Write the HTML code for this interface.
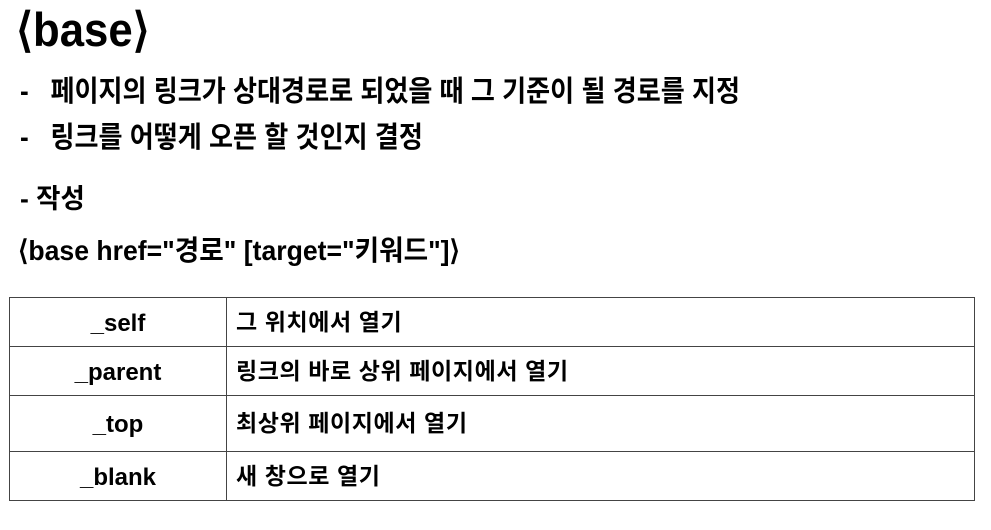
<!DOCTYPE html>
<html><head><meta charset="utf-8"><style>
body{margin:0;width:991px;height:530px;background:#fff;overflow:hidden;position:relative;font-family:"Liberation Sans","Noto Sans CJK KR","NanumGothic",sans-serif;font-weight:bold;color:#000}
.t{position:absolute;white-space:nowrap;transform-origin:left top;line-height:1}
table{position:absolute;left:9px;top:297px;width:966px;border-collapse:collapse}
td{border:1.5px solid #444;font-size:23px;padding:0;height:48px;line-height:1;vertical-align:middle;box-sizing:border-box}
td.k{width:217px;text-align:center;font-size:24px;padding-top:3px}
td.v{padding-left:9px;letter-spacing:0.6px}
</style></head><body>
<div class="t" style="left:16px;top:6px;font-size:47px;transform:scaleX(0.93)">⟨base⟩</div>
<div class="t" style="left:20px;top:78px;font-size:29px;transform:scaleX(0.90)">-&nbsp;&nbsp; 페이지의 링크가 상대경로로 되었을 때 그 기준이 될 경로를 지정</div>
<div class="t" style="left:20px;top:124px;font-size:29px;transform:scaleX(0.90)">-&nbsp;&nbsp; 링크를 어떻게 오픈 할 것인지 결정</div>
<div class="t" style="left:20px;top:186px;font-size:27px;transform:scaleX(0.98)">- 작성</div>
<div class="t" style="left:18px;top:237px;font-size:28px;transform:scaleX(0.95)">⟨base href="경로" [target="키워드"]⟩</div>
<table>
<tr style="height:49px"><td class="k" style="height:49px">_self</td><td class="v" style="height:49px">그 위치에서 열기</td></tr>
<tr style="height:49px"><td class="k" style="height:49px">_parent</td><td class="v" style="height:49px">링크의 바로 상위 페이지에서 열기</td></tr>
<tr style="height:56px"><td class="k" style="height:56px">_top</td><td class="v" style="height:56px">최상위 페이지에서 열기</td></tr>
<tr style="height:49px"><td class="k" style="height:49px">_blank</td><td class="v" style="height:49px">새 창으로 열기</td></tr>
</table>
</body></html>
